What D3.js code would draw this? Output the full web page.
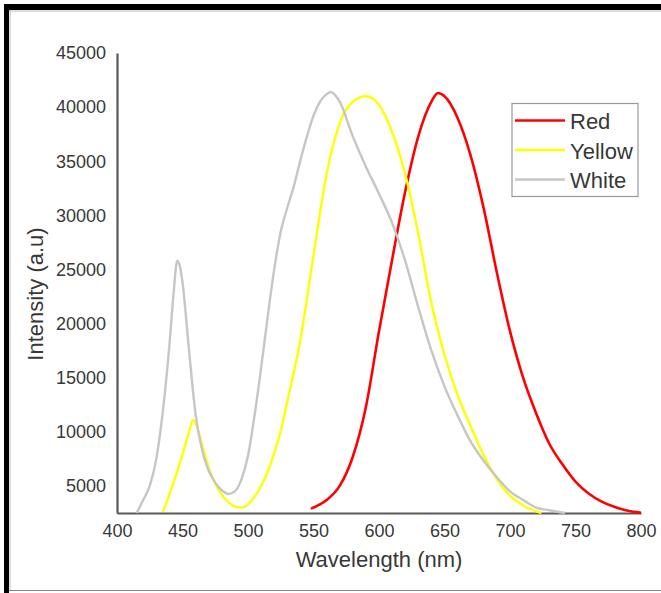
<!DOCTYPE html>
<html>
<head>
<meta charset="utf-8">
<script src="https://cdn.jsdelivr.net/npm/d3@7"></script>
<style>
  html, body { margin: 0; padding: 0; background: #fff; }
  svg { display: block; font-family: "Liberation Sans", Arial, sans-serif; }
</style>
</head>
<body>
<svg id="chart" width="661" height="593"></svg>
<script>
// ---- Data ----
const xTicks = [400, 450, 500, 550, 600, 650, 700, 750, 800];
const yTicks = [5000, 10000, 15000, 20000, 25000, 30000, 35000, 40000, 45000];

const seriesNames = ["Red", "Yellow", "White"];

const redWavelength = [548,560,570,580,590,600,610,620,630,640,645,650,660,670,680,690,700,710,720,730,740,750,760,770,780,790,800];
const redIntensity  = [2900,3700,5000,7700,12300,19300,25900,32200,37300,40500,41300,41000,39000,35500,30600,24700,19300,15000,11700,8900,7000,5400,4300,3550,3050,2700,2530];

const yellowWavelength = [435,440,445,450,455,458,460,465,470,475,480,485,490,495,500,505,510,515,520,525,530,540,550,560,570,580,590,600,610,620,630,640,650,660,670,680,690,700,710,720,724];
const yellowIntensity  = [2600,4200,6000,7900,10000,11100,10800,8800,6700,5200,4200,3500,3100,3000,3300,4000,5000,6300,8000,10100,12800,18500,26300,33800,38500,40500,41000,40200,37700,33800,28300,21900,17100,13400,10500,7800,5600,4100,3200,2650,2500];

const whiteWavelength = [415,420,425,430,435,440,443,446,448,450,455,460,465,470,475,480,485,490,495,500,505,510,515,520,525,530,535,540,545,550,555,560,563,570,580,590,600,610,620,630,640,650,660,670,680,690,700,710,720,730,742];
const whiteIntensity  = [2500,3700,5000,7500,11900,18000,22500,25800,25300,23800,17500,11600,8300,6400,5300,4600,4250,4500,5600,7800,11500,15900,20600,25000,28500,30700,32700,35100,37300,39200,40500,41200,41400,40500,37300,34500,32000,29300,25800,21500,17500,14200,11500,9100,7300,5800,4500,3700,3000,2750,2500];

// ---- Drawing ----
const svg = d3.select("#chart");
const W = 661, H = 593;

svg.append("rect").attr("x", 0).attr("y", 0).attr("width", W).attr("height", H).attr("fill", "#fff");

// frame
svg.append("rect").attr("x", 4).attr("y", 4).attr("width", W - 4).attr("height", 6).attr("fill", "#000");
svg.append("rect").attr("x", 4).attr("y", 4).attr("width", 5).attr("height", H - 4).attr("fill", "#000");
svg.append("line").attr("x1", 9).attr("x2", W).attr("y1", 11).attr("y2", 11).attr("stroke", "#bbb").attr("stroke-width", 1);
svg.append("line").attr("x1", 10).attr("x2", 10).attr("y1", 10).attr("y2", 590).attr("stroke", "#bbb").attr("stroke-width", 1);
svg.append("line").attr("x1", 9).attr("x2", W).attr("y1", 590.5).attr("y2", 590.5).attr("stroke", "#888").attr("stroke-width", 1);

const x = d3.scaleLinear().domain([400, 800]).range([117, 641]);
const y = d3.scaleLinear().domain([2500, 45000]).range([513, 53]);

const axisColor = "#595959";
const textColor = "#383838";
const fontFam = "Liberation Sans, Arial, sans-serif";

const gx = svg.append("g").attr("transform", `translate(0,${y(2500)})`)
  .call(d3.axisBottom(x).tickValues(xTicks).tickSize(0).tickSizeOuter(0).tickPadding(11).tickFormat(d3.format("d")));
gx.select(".domain").attr("stroke", axisColor).attr("stroke-width", 2.2);
gx.selectAll("text").attr("font-size", 18).attr("fill", textColor).attr("font-family", fontFam);

const gy = svg.append("g").attr("transform", `translate(${x(400)},0)`)
  .call(d3.axisLeft(y).tickValues(yTicks).tickSize(0).tickSizeOuter(0).tickPadding(11).tickFormat(d3.format("d")));
gy.select(".domain").attr("stroke", axisColor).attr("stroke-width", 2.2);
gy.selectAll("text").attr("font-size", 18).attr("fill", textColor).attr("font-family", fontFam);

// axis titles
svg.append("text").attr("x", (x(400) + x(800)) / 2).attr("y", 567)
  .attr("text-anchor", "middle").attr("font-size", 22).attr("fill", textColor)
  .text("Wavelength (nm)");
svg.append("text").attr("transform", `translate(43,294) rotate(-90)`)
  .attr("text-anchor", "middle").attr("font-size", 22).attr("fill", textColor)
  .text("Intensity (a.u)");

// lines
const series = [
  { name: seriesNames[0], color: "#ff0000", width: 2.6, w: redWavelength, v: redIntensity },
  { name: seriesNames[1], color: "#ffff00", width: 2.4, w: yellowWavelength, v: yellowIntensity },
  { name: seriesNames[2], color: "#c6c6c6", width: 2.4, w: whiteWavelength, v: whiteIntensity }
];

const line = d3.line().x(d => x(d[0])).y(d => y(d[1])).curve(d3.curveMonotoneX);

series.forEach(s => {
  const pts = s.w.map((w, i) => [w, s.v[i]]);
  svg.append("path").datum(pts)
    .attr("fill", "none").attr("stroke", s.color).attr("stroke-width", s.width)
    .attr("stroke-linejoin", "round").attr("d", line);
});

// legend
const lg = svg.append("g");
lg.append("rect").attr("x", 512).attr("y", 103.5).attr("width", 126).attr("height", 93)
  .attr("fill", "#fff").attr("stroke", "#999").attr("stroke-width", 1.2);
series.forEach((s, i) => {
  const ly = 120.5 + i * 29.5;
  lg.append("line").attr("x1", 515).attr("x2", 565).attr("y1", ly).attr("y2", ly)
    .attr("stroke", s.color).attr("stroke-width", s.width);
  lg.append("text").attr("x", 570).attr("y", ly + 8.5).attr("font-size", 22).attr("fill", textColor)
    .text(s.name);
});
</script>
</body>
</html>
